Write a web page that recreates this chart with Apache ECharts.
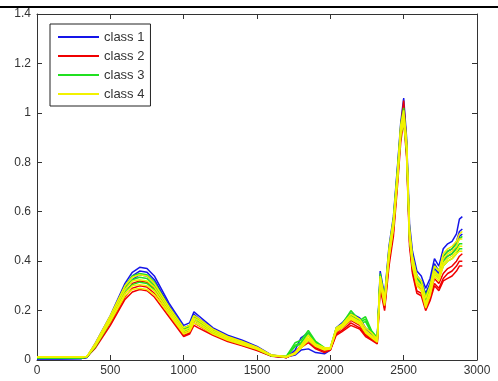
<!DOCTYPE html>
<html>
<head>
<meta charset="utf-8">
<script src="https://cdn.jsdelivr.net/npm/echarts@6/dist/echarts.min.js"></script>
<style>
  html, body { margin: 0; padding: 0; background: #fff; }
  #chart { width: 498px; height: 381px; }
</style>
</head>
<body>
<div id="chart"></div>
<script>
// wavelength sample points (shared by every spectrum)
var xs = [0, 150, 300, 340, 400, 500, 600, 650, 700, 750, 800, 900, 1000, 1040, 1070, 1100, 1200, 1300, 1400, 1500,
  1600, 1700, 1760, 1800, 1850, 1900, 1960, 2000, 2040, 2080, 2140, 2200, 2240, 2280, 2320, 2340, 2370, 2400, 2430, 2460,
  2480, 2500, 2520, 2540, 2560, 2590, 2620, 2650, 2680, 2710, 2740, 2770, 2800, 2830, 2860, 2880, 2900];

// class 1 (blue)
var class1 = [
  [0.005,0.005,0.006,0.012,0.07,0.18,0.31,0.355,0.375,0.37,0.34,0.23,0.14,0.15,0.195,0.18,0.13,0.10,0.08,0.055,0.02,0.012,0.02,0.04,0.045,0.03,0.025,0.04,0.13,0.15,0.19,0.17,0.13,0.11,0.09,0.36,0.26,0.46,0.58,0.80,0.96,1.06,0.90,0.55,0.44,0.36,0.34,0.29,0.33,0.41,0.38,0.45,0.47,0.48,0.51,0.57,0.58],
  [0.005,0.005,0.006,0.01,0.065,0.17,0.295,0.34,0.36,0.355,0.325,0.22,0.13,0.14,0.185,0.17,0.125,0.095,0.075,0.05,0.018,0.01,0.03,0.06,0.08,0.05,0.035,0.045,0.12,0.14,0.18,0.165,0.125,0.105,0.085,0.34,0.25,0.44,0.56,0.78,0.93,1.03,0.88,0.52,0.42,0.34,0.32,0.27,0.31,0.39,0.36,0.42,0.44,0.45,0.48,0.52,0.53],
  [0.005,0.005,0.006,0.01,0.06,0.165,0.285,0.325,0.345,0.34,0.31,0.21,0.125,0.135,0.175,0.165,0.12,0.09,0.07,0.048,0.016,0.01,0.04,0.09,0.11,0.07,0.04,0.05,0.115,0.135,0.175,0.16,0.12,0.10,0.08,0.33,0.24,0.43,0.55,0.76,0.92,1.00,0.86,0.50,0.40,0.33,0.31,0.26,0.30,0.37,0.35,0.41,0.42,0.43,0.46,0.50,0.51]
];

// class 2 (red)
var class2 = [
  [0.008,0.008,0.008,0.012,0.06,0.16,0.27,0.31,0.32,0.315,0.29,0.20,0.11,0.12,0.16,0.15,0.11,0.085,0.065,0.045,0.018,0.01,0.03,0.06,0.085,0.055,0.04,0.045,0.11,0.13,0.16,0.14,0.105,0.09,0.075,0.32,0.22,0.42,0.54,0.77,0.94,1.05,0.87,0.50,0.38,0.30,0.29,0.22,0.27,0.33,0.31,0.35,0.37,0.38,0.40,0.42,0.43],
  [0.008,0.008,0.008,0.012,0.055,0.15,0.255,0.29,0.30,0.295,0.27,0.185,0.10,0.11,0.15,0.14,0.105,0.08,0.06,0.04,0.016,0.01,0.03,0.055,0.08,0.05,0.035,0.04,0.105,0.12,0.15,0.13,0.10,0.085,0.07,0.30,0.21,0.40,0.52,0.74,0.91,1.00,0.84,0.48,0.36,0.28,0.27,0.21,0.25,0.31,0.29,0.33,0.35,0.36,0.38,0.40,0.40],
  [0.008,0.008,0.008,0.012,0.05,0.14,0.245,0.275,0.285,0.28,0.255,0.175,0.095,0.105,0.14,0.13,0.10,0.075,0.058,0.038,0.015,0.01,0.025,0.05,0.07,0.045,0.03,0.04,0.10,0.115,0.14,0.125,0.095,0.08,0.065,0.29,0.20,0.38,0.50,0.72,0.88,0.97,0.82,0.46,0.35,0.27,0.26,0.20,0.24,0.30,0.28,0.32,0.33,0.34,0.36,0.38,0.38]
];

// class 3 (green)
var class3 = [
  [0.008,0.008,0.008,0.012,0.065,0.175,0.30,0.34,0.35,0.345,0.315,0.215,0.13,0.14,0.18,0.165,0.12,0.092,0.072,0.05,0.018,0.015,0.07,0.08,0.12,0.075,0.05,0.05,0.13,0.145,0.20,0.16,0.175,0.12,0.09,0.35,0.25,0.45,0.57,0.79,0.95,1.02,0.88,0.52,0.42,0.34,0.32,0.26,0.30,0.38,0.36,0.42,0.44,0.45,0.47,0.49,0.50],
  [0.008,0.008,0.008,0.012,0.06,0.165,0.29,0.325,0.335,0.33,0.30,0.205,0.125,0.135,0.17,0.158,0.115,0.088,0.068,0.047,0.017,0.014,0.06,0.07,0.11,0.07,0.048,0.048,0.125,0.14,0.19,0.155,0.165,0.115,0.085,0.34,0.24,0.44,0.56,0.77,0.93,0.99,0.86,0.50,0.40,0.33,0.31,0.25,0.29,0.36,0.34,0.40,0.42,0.43,0.45,0.47,0.47],
  [0.008,0.008,0.008,0.012,0.055,0.155,0.275,0.305,0.315,0.31,0.285,0.195,0.115,0.125,0.16,0.15,0.11,0.084,0.064,0.044,0.016,0.013,0.055,0.065,0.10,0.065,0.045,0.046,0.12,0.135,0.18,0.15,0.155,0.11,0.08,0.33,0.23,0.42,0.54,0.75,0.91,0.97,0.84,0.49,0.38,0.31,0.30,0.24,0.28,0.35,0.33,0.38,0.40,0.41,0.43,0.45,0.45]
];

// class 4 (yellow)
var class4 = [
  [0.012,0.012,0.012,0.014,0.07,0.18,0.30,0.335,0.345,0.34,0.31,0.215,0.13,0.14,0.18,0.168,0.125,0.095,0.075,0.052,0.02,0.014,0.03,0.06,0.10,0.065,0.05,0.05,0.13,0.145,0.185,0.165,0.13,0.11,0.085,0.34,0.25,0.45,0.57,0.78,0.95,1.01,0.89,0.53,0.42,0.34,0.32,0.25,0.30,0.38,0.36,0.43,0.45,0.46,0.48,0.51,0.52],
  [0.012,0.012,0.012,0.014,0.065,0.17,0.285,0.32,0.325,0.32,0.295,0.205,0.12,0.13,0.17,0.16,0.118,0.09,0.07,0.049,0.019,0.013,0.028,0.055,0.09,0.06,0.045,0.048,0.125,0.14,0.175,0.155,0.12,0.10,0.08,0.33,0.24,0.43,0.55,0.76,0.93,0.99,0.87,0.51,0.40,0.32,0.30,0.23,0.28,0.36,0.34,0.41,0.43,0.44,0.46,0.49,0.49],
  [0.012,0.012,0.012,0.014,0.06,0.16,0.27,0.30,0.305,0.30,0.28,0.195,0.112,0.122,0.16,0.15,0.112,0.085,0.066,0.046,0.018,0.012,0.026,0.05,0.085,0.058,0.042,0.046,0.12,0.135,0.17,0.15,0.115,0.095,0.075,0.32,0.23,0.42,0.54,0.75,0.92,0.98,0.86,0.50,0.39,0.31,0.29,0.22,0.27,0.35,0.33,0.39,0.41,0.42,0.44,0.46,0.46],
  [0.012,0.012,0.012,0.014,0.058,0.155,0.26,0.285,0.29,0.285,0.265,0.185,0.105,0.115,0.15,0.142,0.105,0.08,0.062,0.043,0.017,0.012,0.024,0.048,0.08,0.055,0.04,0.044,0.115,0.13,0.165,0.145,0.11,0.09,0.072,0.31,0.22,0.41,0.53,0.74,0.91,0.96,0.85,0.49,0.38,0.30,0.28,0.21,0.26,0.34,0.32,0.38,0.40,0.41,0.43,0.44,0.44]
];

var classNames = ["class 1", "class 2", "class 3", "class 4"];
var classColors = ["#1515e8", "#f00000", "#20e020", "#f2f200"];
var classData = [class1, class2, class3, class4];

var xTicks = { min: 0, max: 3000, interval: 500 };
var yTicks = { min: 0, max: 1.4, interval: 0.2 };

var series = [];
classData.forEach(function (rows, c) {
  rows.forEach(function (ys) {
    series.push({
      name: classNames[c],
      type: "line",
      showSymbol: false,
      animation: false,
      color: classColors[c],
      lineStyle: { width: 1.5, color: classColors[c] },
      data: xs.map(function (x, i) { return [x, ys[i]]; }),
    });
  });
});

var axisLine = { show: true, onZero: false, lineStyle: { color: "#333", width: 1 } };
var tick = { show: true, inside: true, length: 5, lineStyle: { color: "#333" } };
var label = { color: "#333", fontSize: 12, fontFamily: "Liberation Sans, Arial, sans-serif" };

var chart = echarts.init(document.getElementById("chart"));
chart.setOption({
  animation: false,
  backgroundColor: "#fff",
  grid: { left: 37, right: 21, top: 14, bottom: 21 },
  legend: {
    data: classNames,
    orient: "vertical",
    left: 50,
    top: 24,
    padding: [6, 6, 5, 8],
    itemGap: 5,
    itemWidth: 41,
    itemHeight: 2,
    icon: "rect",
    backgroundColor: "#fff",
    borderColor: "#222",
    borderWidth: 1,
    borderRadius: 0,
    textStyle: { color: "#333", fontSize: 13, fontFamily: "Liberation Sans, Arial, sans-serif", lineHeight: 14 },
  },
  xAxis: [
    Object.assign({ type: "value", axisLine: axisLine, axisTick: tick, splitLine: { show: false },
      axisLabel: Object.assign({ margin: 5, formatter: function (v) { return String(v); } }, label) }, xTicks),
    Object.assign({ type: "value", position: "top", axisLine: axisLine, axisTick: tick, splitLine: { show: false },
      axisLabel: { show: false } }, xTicks),
  ],
  yAxis: [
    Object.assign({ type: "value", axisLine: axisLine, axisTick: tick, splitLine: { show: false },
      axisLabel: Object.assign({ margin: 6 }, label) }, yTicks),
    Object.assign({ type: "value", position: "right", axisLine: axisLine, axisTick: tick, splitLine: { show: false },
      axisLabel: { show: false } }, yTicks),
  ],
  graphic: [
    { type: "line", shape: { x1: 0, y1: 7, x2: 498, y2: 7 }, style: { stroke: "#000", lineWidth: 2 } },
  ],
  series: series,
});
</script>
</body>
</html>
